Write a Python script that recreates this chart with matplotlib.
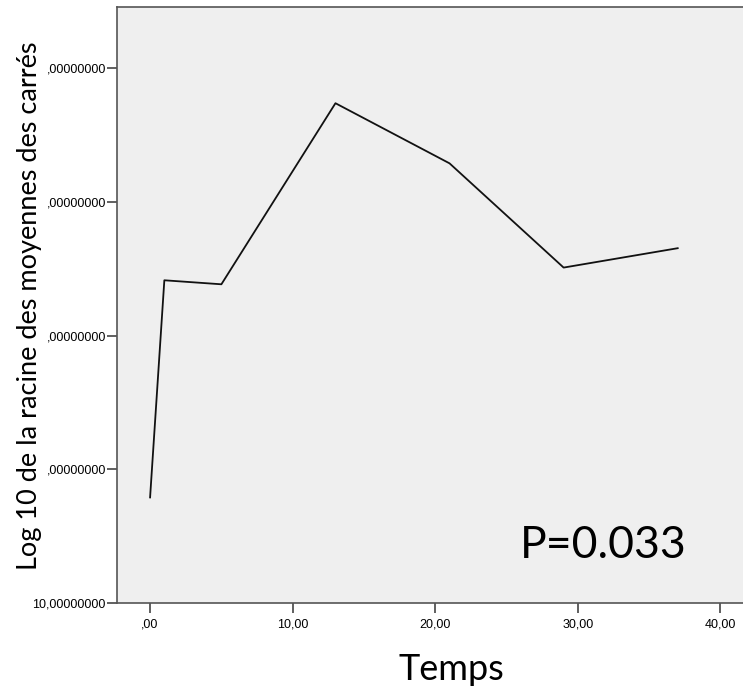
import matplotlib
matplotlib.use("Agg")
import matplotlib.pyplot as plt

temps = [0, 1, 5, 13, 21, 29, 37]
log_rms = [10.79, 12.415, 12.385, 13.74, 13.29, 12.51, 12.655]
xticks = [0, 10, 20, 30, 40]
xticklabels = [",00", "10,00", "20,00", "30,00", "40,00"]
yticks = [10, 11, 12, 13, 14]
yticklabels = ["10,00000000", ",00000000", ",00000000", ",00000000", ",00000000"]

W, H = 743, 696
fig = plt.figure(figsize=(W / 100, H / 100), dpi=100)
fig.patch.set_facecolor("white")
ax = fig.add_axes([117 / W, (H - 603) / H, (W - 117) / W + 0.01, (603 - 7) / H])
ax.set_facecolor("#efefef")
ax.plot(temps, log_rms, color="#111111", lw=1.3)
ax.set_xlim(-2.32, 42.1)
ax.set_ylim(10, 14.46)
ax.set_xticks(xticks)
ax.set_xticklabels(xticklabels, fontfamily="Liberation Sans", fontsize=9)
ax.set_yticks(yticks)
ax.set_yticklabels(yticklabels, fontfamily="Liberation Sans", fontsize=9)
ax.tick_params(axis="both", length=7, width=1.2, color="#444444", pad=1)
ax.tick_params(axis="x", pad=4)
for s in ["left", "bottom", "top"]:
    ax.spines[s].set_color("#555555")
    ax.spines[s].set_linewidth(1.2)
ax.spines["right"].set_visible(False)

fig.text(30 / W, 1 - 306 / H, "Log 10 de la racine des moyennes des carrés",
         rotation=90, ha="center", va="center", fontsize=19.5, fontfamily="Lato")
fig.text(451 / W, 1 - 669 / H, "Temps", ha="center", va="center",
         fontsize=26, fontfamily="Lato")
ax.text(603 / W, 1 - 545 / H, "P=0.033", transform=fig.transFigure,
        ha="center", va="center", fontsize=32, fontfamily="Lato")

fig.savefig("out.png", dpi=100)
